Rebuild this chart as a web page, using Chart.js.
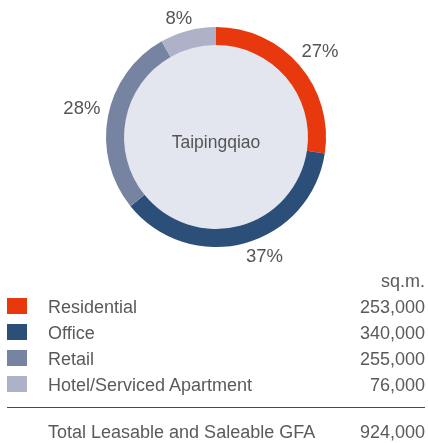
<!DOCTYPE html>
<html>
<head>
<meta charset="utf-8">
<script src="https://cdn.jsdelivr.net/npm/chart.js@4"></script>
<style>
  html,body{margin:0;padding:0;background:#fff;}
  body{width:428px;height:443px;position:relative;overflow:hidden;font-family:"Liberation Sans",Arial,sans-serif;color:#5a5a5a;}
  #wrap{position:absolute;left:0;top:0;width:428px;height:276px;}
  #legend{position:absolute;left:0;top:268px;width:428px;font-size:18px;}
  .row{position:relative;height:26px;line-height:26px;}
  .sw{position:absolute;left:7px;top:4px;width:20px;height:16px;}
  .lab{position:absolute;left:48px;top:0;white-space:nowrap;}
  .val{position:absolute;right:3px;top:0;}
  .rule{position:absolute;left:7px;width:418px;top:139px;height:0;border-top:1.5px solid #2b4f78;}
</style>
</head>
<body>
<div id="wrap"><canvas id="c"></canvas></div>
<div id="legend"></div>
<script>
const categories = ["Residential", "Office", "Retail", "Hotel/Serviced Apartment"];
const values = [253000, 340000, 255000, 76000];
const valueLabels = ["253,000", "340,000", "255,000", "76,000"];
const percentLabels = ["27%", "37%", "28%", "8%"];
const colors = ["#e8380d", "#2b4f78", "#7784a1", "#adb2c8"];
const centerLabel = "Taipingqiao";
const unitLabel = "sq.m.";
const totalLabel = "Total Leasable and Saleable GFA";
const totalValue = "924,000";

// legend table
const lg = document.getElementById('legend');
let html = '<div class="row"><span class="val">' + unitLabel + '</span></div>';
categories.forEach((c, i) => {
  html += '<div class="row"><span class="sw" style="background:' + colors[i] + '"></span><span class="lab">' + c + '</span><span class="val">' + valueLabels[i] + '</span></div>';
});
html += '<div class="rule"></div>';
html += '<div class="row" style="position:absolute;top:151px;width:428px;"><span class="lab">' + totalLabel + '</span><span class="val">' + totalValue + '</span></div>';
lg.innerHTML = html;

const PCT_FONT = '18.5px "Liberation Sans", Arial, sans-serif';
const CTR_FONT = '17.5px "Liberation Sans", Arial, sans-serif';
// small visual nudges for the outside labels (style only)
const labelNudge = [[2, 2], [15, -4], [-1, -4], [-5, 3]];

const centerFill = {
  id: 'centerFill',
  beforeDatasetsDraw(chart) {
    const arc = chart.getDatasetMeta(0).data[0];
    if (!arc) return;
    const ctx = chart.ctx;
    ctx.save();
    ctx.beginPath();
    ctx.arc(arc.x, arc.y, arc.innerRadius + 1, 0, Math.PI * 2);
    ctx.fillStyle = '#e3e6ef';
    ctx.fill();
    ctx.restore();
  },
  afterDatasetsDraw(chart) {
    const meta = chart.getDatasetMeta(0);
    const ctx = chart.ctx;
    ctx.save();
    ctx.fillStyle = '#555';
    ctx.textAlign = 'center';
    ctx.textBaseline = 'middle';
    const a0 = meta.data[0];
    ctx.font = CTR_FONT;
    ctx.fillText(centerLabel, a0.x, a0.y + 6);
    ctx.font = PCT_FONT;
    meta.data.forEach((arc, i) => {
      const mid = (arc.startAngle + arc.endAngle) / 2;
      const cx = Math.cos(mid), sy = Math.sin(mid);
      const w = ctx.measureText(percentLabels[i]).width;
      const h = 14;
      const r = arc.outerRadius + 6 + Math.abs(cx) * w / 2 + Math.abs(sy) * h / 2;
      const n = labelNudge[i];
      ctx.fillText(percentLabels[i], arc.x + cx * r + n[0], arc.y + sy * r + n[1] + 1);
    });
    ctx.restore();
  }
};

new Chart(document.getElementById('c'), {
  type: 'doughnut',
  data: {
    labels: categories,
    datasets: [{
      data: values,
      backgroundColor: colors,
      borderWidth: 0
    }]
  },
  options: {
    responsive: true,
    maintainAspectRatio: false,
    animation: false,
    cutout: '83.6%',
    layout: { padding: { top: 27, bottom: 29, left: 106, right: 102 } },
    plugins: { legend: { display: false }, tooltip: { enabled: false } }
  },
  plugins: [centerFill]
});
</script>
</body>
</html>
